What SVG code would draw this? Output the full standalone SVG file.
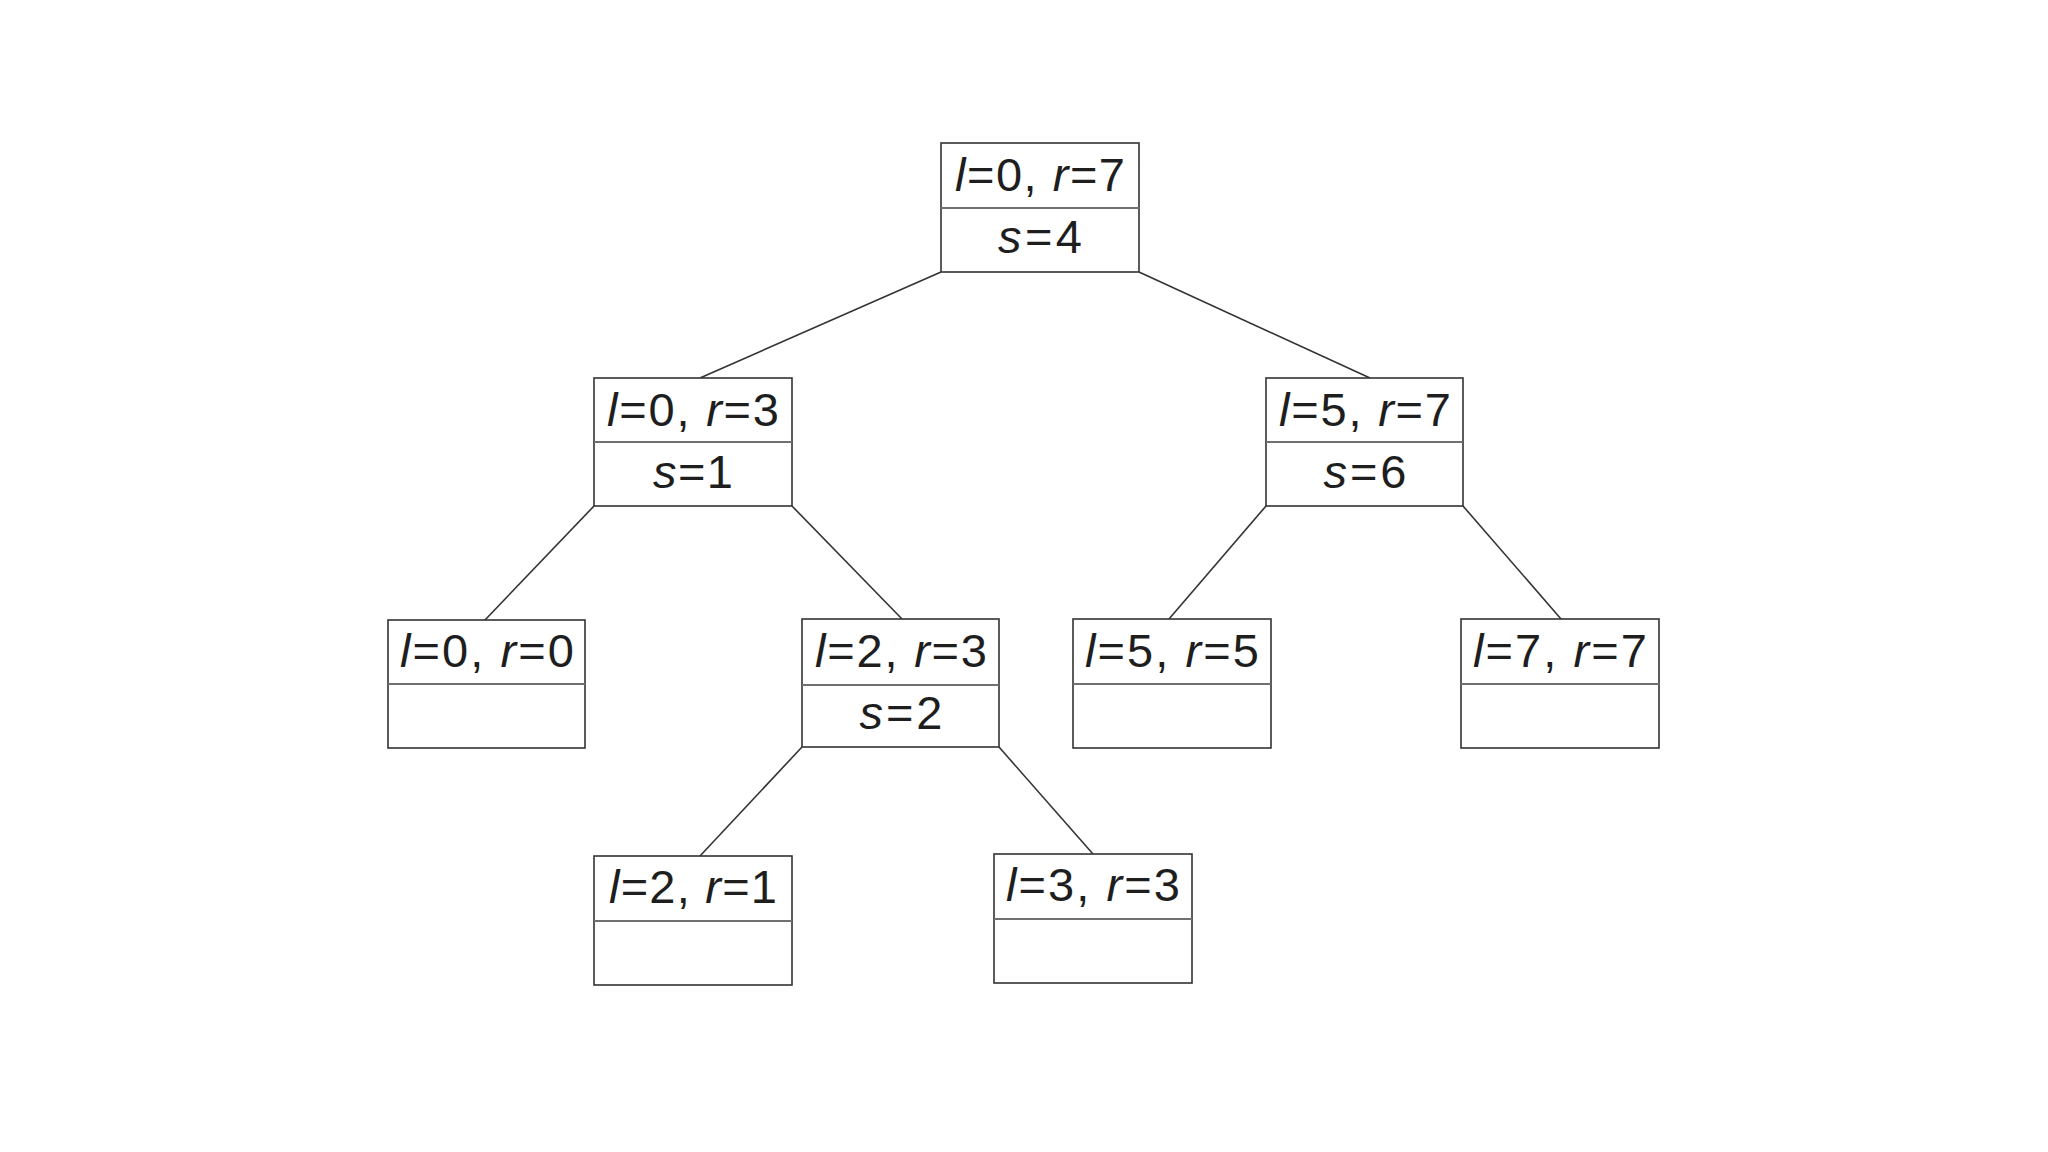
<svg xmlns="http://www.w3.org/2000/svg" width="2048" height="1152" viewBox="0 0 2048 1152">
<style>
.box{fill:#fff;stroke:#333;stroke-width:1.6}
.div{stroke:#707070;stroke-width:2}
.edge{stroke:#333;stroke-width:1.6;fill:none}
text{font-family:"Liberation Sans",Arial,sans-serif;font-size:47px;fill:#1e1e1e;text-anchor:middle}
.i{font-style:italic}
</style>
<rect width="2048" height="1152" fill="#fff"/>
<g id="connectors">
<line class="edge" x1="941" y1="272" x2="700" y2="378"/>
<line class="edge" x1="1139" y1="272" x2="1370" y2="378"/>
<line class="edge" x1="594" y1="506" x2="485" y2="620"/>
<line class="edge" x1="792" y1="506" x2="902" y2="619"/>
<line class="edge" x1="802" y1="747" x2="700" y2="856"/>
<line class="edge" x1="999" y1="747" x2="1093" y2="854"/>
<line class="edge" x1="1266" y1="506" x2="1169" y2="619"/>
<line class="edge" x1="1463" y1="506" x2="1561" y2="619"/>
</g>
<g id="n07">
<rect class="box" x="941" y="143" width="198" height="129"/>
<line class="div" x1="941" y1="208" x2="1139" y2="208"/>
<text x="1040" y="191" textLength="170" lengthAdjust="spacing"><tspan class="i">l</tspan>=0, <tspan class="i">r</tspan>=7</text>
<text x="1040" y="253" textLength="84" lengthAdjust="spacing"><tspan class="i">s</tspan>=4</text>
</g>
<g id="n03">
<rect class="box" x="594" y="378" width="198" height="128"/>
<line class="div" x1="594" y1="442" x2="792" y2="442"/>
<text x="693" y="426" textLength="172" lengthAdjust="spacing"><tspan class="i">l</tspan>=0, <tspan class="i">r</tspan>=3</text>
<text x="693" y="488" textLength="80" lengthAdjust="spacing"><tspan class="i">s</tspan>=1</text>
</g>
<g id="n57">
<rect class="box" x="1266" y="378" width="197" height="128"/>
<line class="div" x1="1266" y1="442" x2="1463" y2="442"/>
<text x="1365" y="426" textLength="172" lengthAdjust="spacing"><tspan class="i">l</tspan>=5, <tspan class="i">r</tspan>=7</text>
<text x="1365" y="488" textLength="83" lengthAdjust="spacing"><tspan class="i">s</tspan>=6</text>
</g>
<g id="n00">
<rect class="box" x="388" y="620" width="197" height="128"/>
<line class="div" x1="388" y1="684" x2="585" y2="684"/>
<text x="487" y="667" textLength="174" lengthAdjust="spacing"><tspan class="i">l</tspan>=0, <tspan class="i">r</tspan>=0</text>
</g>
<g id="n23">
<rect class="box" x="802" y="619" width="197" height="128"/>
<line class="div" x1="802" y1="685" x2="999" y2="685"/>
<text x="901" y="667" textLength="172" lengthAdjust="spacing"><tspan class="i">l</tspan>=2, <tspan class="i">r</tspan>=3</text>
<text x="901" y="729" textLength="83" lengthAdjust="spacing"><tspan class="i">s</tspan>=2</text>
</g>
<g id="n55">
<rect class="box" x="1073" y="619" width="198" height="129"/>
<line class="div" x1="1073" y1="684" x2="1271" y2="684"/>
<text x="1172" y="667" textLength="174" lengthAdjust="spacing"><tspan class="i">l</tspan>=5, <tspan class="i">r</tspan>=5</text>
</g>
<g id="n77">
<rect class="box" x="1461" y="619" width="198" height="129"/>
<line class="div" x1="1461" y1="684" x2="1659" y2="684"/>
<text x="1560" y="667" textLength="174" lengthAdjust="spacing"><tspan class="i">l</tspan>=7, <tspan class="i">r</tspan>=7</text>
</g>
<g id="n21">
<rect class="box" x="594" y="856" width="198" height="129"/>
<line class="div" x1="594" y1="921" x2="792" y2="921"/>
<text x="693" y="903" textLength="168" lengthAdjust="spacing"><tspan class="i">l</tspan>=2, <tspan class="i">r</tspan>=1</text>
</g>
<g id="n33">
<rect class="box" x="994" y="854" width="198" height="129"/>
<line class="div" x1="994" y1="919" x2="1192" y2="919"/>
<text x="1093" y="901" textLength="174" lengthAdjust="spacing"><tspan class="i">l</tspan>=3, <tspan class="i">r</tspan>=3</text>
</g>
</svg>
